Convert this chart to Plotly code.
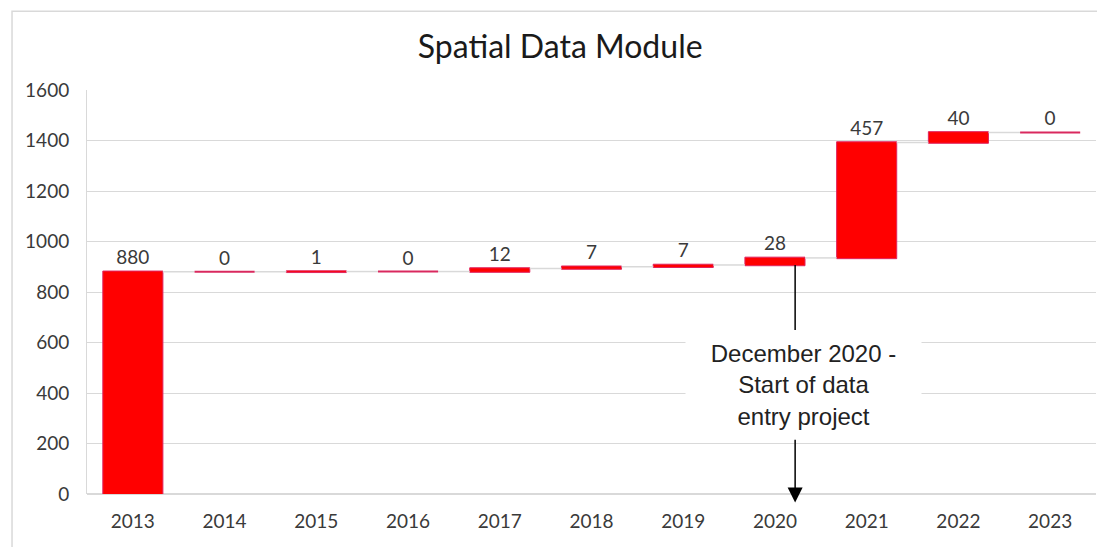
import plotly.graph_objects as go

# Spatial Data Module - records added per year (waterfall)
years = ["2013", "2014", "2015", "2016", "2017", "2018", "2019", "2020", "2021", "2022", "2023"]
added = [880, 0, 1, 0, 12, 7, 7, 28, 457, 40, 0]
y_ticks = [0, 200, 400, 600, 800, 1000, 1200, 1400, 1600]

note_text = "December 2020 -<br>Start of data<br>entry project"

x_pos = list(range(len(years)))
label_font = dict(family="Lato, Carlito, sans-serif", size=19, color="#3a3a3a")
grid_col = "#d9d9d9"
bar_w = 0.655

# running totals, used to mark the zero-change years with a flat line
totals = []
run = 0
for v in added:
    run += v
    totals.append(run)

flat_x, flat_y = [], []
for i, v in enumerate(added):
    if v == 0:
        flat_x += [i - bar_w / 2, i + bar_w / 2, None]
        flat_y += [totals[i], totals[i], None]

fig = go.Figure()
fig.add_trace(go.Waterfall(
    x=x_pos,
    y=added,
    measure=["relative"] * len(added),
    text=[str(v) for v in added],
    textposition="outside",
    textfont=label_font,
    width=bar_w,
    increasing=dict(marker=dict(color="#ff0000", line=dict(color="#e0245e", width=1))),
    connector=dict(line=dict(color=grid_col, width=1.5)),
    cliponaxis=False,
    showlegend=False,
))
fig.add_trace(go.Scatter(x=flat_x, y=flat_y, mode="lines",
                         line=dict(color="#d9295e", width=2), showlegend=False, hoverinfo="skip"))

# callout line from the 2020 bar and arrow down to the axis
arrow_x = 7.22
fig.add_shape(type="line", xref="x", yref="y", x0=arrow_x, x1=arrow_x, y0=907, y1=650,
              line=dict(color="black", width=1.5))
fig.add_annotation(x=arrow_x, y=-34, ax=arrow_x, ay=222, xref="x", yref="y",
                   axref="x", ayref="y", text="", showarrow=True,
                   arrowhead=2, arrowsize=2, arrowwidth=1.5, arrowcolor="black")
fig.add_annotation(x=7.31, y=432, xref="x", yref="y", text=note_text,
                   showarrow=False, bgcolor="white", borderpad=9, width=217, height=90,
                   font=dict(family="Liberation Sans, Arial, sans-serif", size=24, color="#222222"))

# outer chart frame
fig.add_shape(type="rect", xref="paper", yref="paper", x0=-0.0743, x1=1.05, y0=-0.3, y1=1.195,
              line=dict(color=grid_col, width=1.5), layer="below")

fig.update_layout(
    width=1097, height=539,
    margin=dict(l=79, r=9, t=82, b=53),
    paper_bgcolor="white", plot_bgcolor="white",
    title=dict(text="Spatial Data Module", x=0.469, xref="paper", xanchor="center",
               y=1 - 39 / 539, yref="container", yanchor="middle",
               font=dict(family="Lato, Carlito, sans-serif", size=32, color="#1a1a1a")),
    xaxis=dict(tickmode="array", tickvals=x_pos, ticktext=years, range=[-0.5, len(years) - 0.5],
               showgrid=False, zeroline=False, showline=False, ticks="",
               ticklabelstandoff=14, tickfont=label_font),
    yaxis=dict(range=[0, 1600], tickvals=y_ticks, showgrid=True, gridcolor=grid_col, gridwidth=1,
               zeroline=True, zerolinecolor=grid_col, zerolinewidth=1.5,
               showline=True, linecolor=grid_col, linewidth=1, ticks="",
               ticklabelstandoff=13, tickfont=label_font),
)

fig.write_html("out.html")
